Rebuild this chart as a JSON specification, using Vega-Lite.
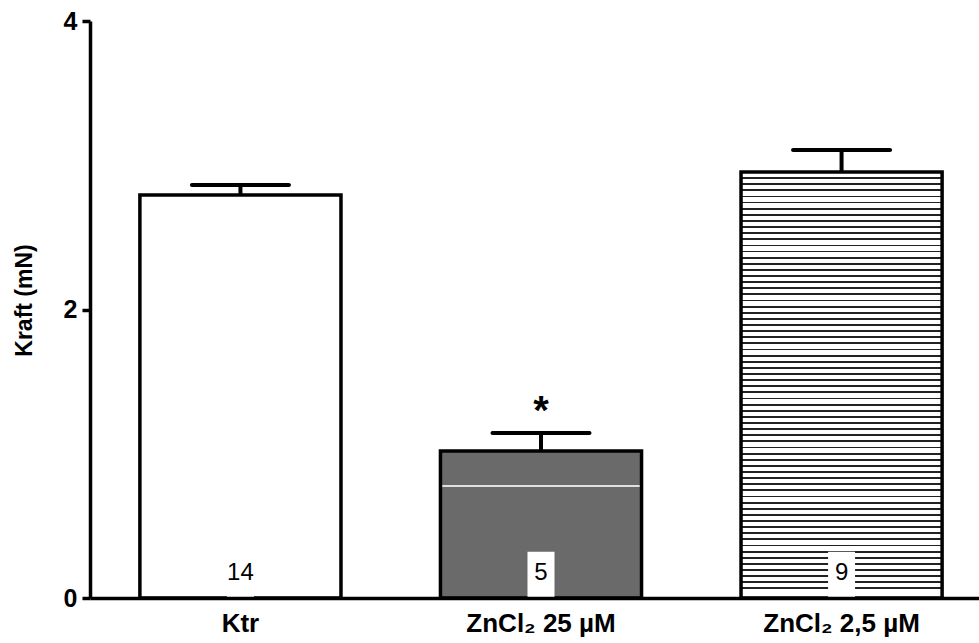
{
  "$schema": "https://vega.github.io/schema/vega-lite/v6.json",
  "width": 889,
  "height": 577,
  "autosize": {"type": "none"},
  "padding": {"left": 90, "top": 21, "right": 0, "bottom": 45},
  "background": "white",
  "config": {"view": {"stroke": null}, "font": "Liberation Sans"},
  "data": {"values": [
    {"g": "Ktr", "mean": 2.794, "err": 2.863, "n": "14", "sig": ""},
    {"g": "ZnCl₂ 25 µM", "mean": 1.019, "err": 1.144, "n": "5", "sig": "*"},
    {"g": "ZnCl₂ 2,5 µM", "mean": 2.953, "err": 3.106, "n": "9", "sig": ""}
  ]},
  "encoding": {
    "x": {
      "field": "g", "type": "nominal", "sort": null,
      "scale": {"range": [0, 902], "paddingInner": 0.331, "paddingOuter": 0.166},
      "axis": {
        "title": null, "domainColor": "black", "domainWidth": 3.5, "domainCap": "butt",
        "ticks": false, "labelFont": "Liberation Sans", "labelFontSize": 26, "labelFontWeight": "bold",
        "labelColor": "black", "labelPadding": 12, "labelAngle": 0, "zindex": 1
      }
    }
  },
  "layer": [
    {
      "mark": {"type": "bar", "stroke": "black", "strokeWidth": 3.5, "strokeJoin": "miter"},
      "encoding": {
        "y": {
          "field": "mean", "type": "quantitative",
          "scale": {"domain": [0, 4], "nice": false},
          "axis": {
            "title": "Kraft (mN)", "values": [0, 2, 4], "format": "d", "grid": false,
            "domainColor": "black", "domainWidth": 3.5, "domainCap": "butt",
            "tickColor": "black", "tickWidth": 3.5, "tickSize": 8,
            "labelFont": "Liberation Sans", "labelFontSize": 25, "labelFontWeight": "bold",
            "labelColor": "black", "labelPadding": 5,
            "titleFont": "Liberation Sans", "titleFontSize": 23, "titleFontWeight": "bold",
            "titleColor": "black", "titlePadding": 27, "titleY": 279, "zindex": 1
          }
        },
        "fill": {
          "condition": [
            {"test": "datum.n == '5'", "value": {
              "gradient": "linear", "x1": 0, "y1": 0, "x2": 0, "y2": 1,
              "stops": [
                {"offset": 0, "color": "#6a6a6a"},
                {"offset": 0.231, "color": "#6a6a6a"}, {"offset": 0.231, "color": "#e0e0e0"},
                {"offset": 0.245, "color": "#e0e0e0"}, {"offset": 0.245, "color": "#6a6a6a"},
                {"offset": 1, "color": "#6a6a6a"}
              ]
            }},
            {"test": "datum.n == '9'", "value": {
              "gradient": "linear", "x1": 0, "y1": 0, "x2": 0, "y2": 1,
              "stops": [
                {"offset": 0, "color": "#fff"},
                {"offset": 0.01197, "color": "#fff"}, {"offset": 0.01197, "color": "#222"}, {"offset": 0.01620, "color": "#222"}, {"offset": 0.01620, "color": "#fff"},
                {"offset": 0.02635, "color": "#fff"}, {"offset": 0.02635, "color": "#222"}, {"offset": 0.03058, "color": "#222"}, {"offset": 0.03058, "color": "#fff"},
                {"offset": 0.04073, "color": "#fff"}, {"offset": 0.04073, "color": "#222"}, {"offset": 0.04495, "color": "#222"}, {"offset": 0.04495, "color": "#fff"},
                {"offset": 0.05511, "color": "#fff"}, {"offset": 0.05511, "color": "#222"}, {"offset": 0.05933, "color": "#222"}, {"offset": 0.05933, "color": "#fff"},
                {"offset": 0.06948, "color": "#fff"}, {"offset": 0.06948, "color": "#222"}, {"offset": 0.07371, "color": "#222"}, {"offset": 0.07371, "color": "#fff"},
                {"offset": 0.08386, "color": "#fff"}, {"offset": 0.08386, "color": "#222"}, {"offset": 0.08809, "color": "#222"}, {"offset": 0.08809, "color": "#fff"},
                {"offset": 0.09824, "color": "#fff"}, {"offset": 0.09824, "color": "#222"}, {"offset": 0.10246, "color": "#222"}, {"offset": 0.10246, "color": "#fff"},
                {"offset": 0.11262, "color": "#fff"}, {"offset": 0.11262, "color": "#222"}, {"offset": 0.11684, "color": "#222"}, {"offset": 0.11684, "color": "#fff"},
                {"offset": 0.12700, "color": "#fff"}, {"offset": 0.12700, "color": "#222"}, {"offset": 0.13122, "color": "#222"}, {"offset": 0.13122, "color": "#fff"},
                {"offset": 0.14138, "color": "#fff"}, {"offset": 0.14138, "color": "#222"}, {"offset": 0.14560, "color": "#222"}, {"offset": 0.14560, "color": "#fff"},
                {"offset": 0.15575, "color": "#fff"}, {"offset": 0.15575, "color": "#222"}, {"offset": 0.15998, "color": "#222"}, {"offset": 0.15998, "color": "#fff"},
                {"offset": 0.17013, "color": "#fff"}, {"offset": 0.17013, "color": "#222"}, {"offset": 0.17436, "color": "#222"}, {"offset": 0.17436, "color": "#fff"},
                {"offset": 0.18451, "color": "#fff"}, {"offset": 0.18451, "color": "#222"}, {"offset": 0.18873, "color": "#222"}, {"offset": 0.18873, "color": "#fff"},
                {"offset": 0.19889, "color": "#fff"}, {"offset": 0.19889, "color": "#222"}, {"offset": 0.20311, "color": "#222"}, {"offset": 0.20311, "color": "#fff"},
                {"offset": 0.21327, "color": "#fff"}, {"offset": 0.21327, "color": "#222"}, {"offset": 0.21749, "color": "#222"}, {"offset": 0.21749, "color": "#fff"},
                {"offset": 0.22764, "color": "#fff"}, {"offset": 0.22764, "color": "#222"}, {"offset": 0.23187, "color": "#222"}, {"offset": 0.23187, "color": "#fff"},
                {"offset": 0.24202, "color": "#fff"}, {"offset": 0.24202, "color": "#222"}, {"offset": 0.24625, "color": "#222"}, {"offset": 0.24625, "color": "#fff"},
                {"offset": 0.25640, "color": "#fff"}, {"offset": 0.25640, "color": "#222"}, {"offset": 0.26063, "color": "#222"}, {"offset": 0.26063, "color": "#fff"},
                {"offset": 0.27078, "color": "#fff"}, {"offset": 0.27078, "color": "#222"}, {"offset": 0.27500, "color": "#222"}, {"offset": 0.27500, "color": "#fff"},
                {"offset": 0.28516, "color": "#fff"}, {"offset": 0.28516, "color": "#222"}, {"offset": 0.28938, "color": "#222"}, {"offset": 0.28938, "color": "#fff"},
                {"offset": 0.29953, "color": "#fff"}, {"offset": 0.29953, "color": "#222"}, {"offset": 0.30376, "color": "#222"}, {"offset": 0.30376, "color": "#fff"},
                {"offset": 0.31391, "color": "#fff"}, {"offset": 0.31391, "color": "#222"}, {"offset": 0.31814, "color": "#222"}, {"offset": 0.31814, "color": "#fff"},
                {"offset": 0.32829, "color": "#fff"}, {"offset": 0.32829, "color": "#222"}, {"offset": 0.33252, "color": "#222"}, {"offset": 0.33252, "color": "#fff"},
                {"offset": 0.34267, "color": "#fff"}, {"offset": 0.34267, "color": "#222"}, {"offset": 0.34689, "color": "#222"}, {"offset": 0.34689, "color": "#fff"},
                {"offset": 0.35705, "color": "#fff"}, {"offset": 0.35705, "color": "#222"}, {"offset": 0.36127, "color": "#222"}, {"offset": 0.36127, "color": "#fff"},
                {"offset": 0.37142, "color": "#fff"}, {"offset": 0.37142, "color": "#222"}, {"offset": 0.37565, "color": "#222"}, {"offset": 0.37565, "color": "#fff"},
                {"offset": 0.38580, "color": "#fff"}, {"offset": 0.38580, "color": "#222"}, {"offset": 0.39003, "color": "#222"}, {"offset": 0.39003, "color": "#fff"},
                {"offset": 0.40018, "color": "#fff"}, {"offset": 0.40018, "color": "#222"}, {"offset": 0.40441, "color": "#222"}, {"offset": 0.40441, "color": "#fff"},
                {"offset": 0.41456, "color": "#fff"}, {"offset": 0.41456, "color": "#222"}, {"offset": 0.41878, "color": "#222"}, {"offset": 0.41878, "color": "#fff"},
                {"offset": 0.42894, "color": "#fff"}, {"offset": 0.42894, "color": "#222"}, {"offset": 0.43316, "color": "#222"}, {"offset": 0.43316, "color": "#fff"},
                {"offset": 0.44331, "color": "#fff"}, {"offset": 0.44331, "color": "#222"}, {"offset": 0.44754, "color": "#222"}, {"offset": 0.44754, "color": "#fff"},
                {"offset": 0.45769, "color": "#fff"}, {"offset": 0.45769, "color": "#222"}, {"offset": 0.46192, "color": "#222"}, {"offset": 0.46192, "color": "#fff"},
                {"offset": 0.47207, "color": "#fff"}, {"offset": 0.47207, "color": "#222"}, {"offset": 0.47630, "color": "#222"}, {"offset": 0.47630, "color": "#fff"},
                {"offset": 0.48645, "color": "#fff"}, {"offset": 0.48645, "color": "#222"}, {"offset": 0.49067, "color": "#222"}, {"offset": 0.49067, "color": "#fff"},
                {"offset": 0.50083, "color": "#fff"}, {"offset": 0.50083, "color": "#222"}, {"offset": 0.50505, "color": "#222"}, {"offset": 0.50505, "color": "#fff"},
                {"offset": 0.51520, "color": "#fff"}, {"offset": 0.51520, "color": "#222"}, {"offset": 0.51943, "color": "#222"}, {"offset": 0.51943, "color": "#fff"},
                {"offset": 0.52958, "color": "#fff"}, {"offset": 0.52958, "color": "#222"}, {"offset": 0.53381, "color": "#222"}, {"offset": 0.53381, "color": "#fff"},
                {"offset": 0.54396, "color": "#fff"}, {"offset": 0.54396, "color": "#222"}, {"offset": 0.54819, "color": "#222"}, {"offset": 0.54819, "color": "#fff"},
                {"offset": 0.55834, "color": "#fff"}, {"offset": 0.55834, "color": "#222"}, {"offset": 0.56256, "color": "#222"}, {"offset": 0.56256, "color": "#fff"},
                {"offset": 0.57272, "color": "#fff"}, {"offset": 0.57272, "color": "#222"}, {"offset": 0.57694, "color": "#222"}, {"offset": 0.57694, "color": "#fff"},
                {"offset": 0.58709, "color": "#fff"}, {"offset": 0.58709, "color": "#222"}, {"offset": 0.59132, "color": "#222"}, {"offset": 0.59132, "color": "#fff"},
                {"offset": 0.60147, "color": "#fff"}, {"offset": 0.60147, "color": "#222"}, {"offset": 0.60570, "color": "#222"}, {"offset": 0.60570, "color": "#fff"},
                {"offset": 0.61585, "color": "#fff"}, {"offset": 0.61585, "color": "#222"}, {"offset": 0.62008, "color": "#222"}, {"offset": 0.62008, "color": "#fff"},
                {"offset": 0.63023, "color": "#fff"}, {"offset": 0.63023, "color": "#222"}, {"offset": 0.63445, "color": "#222"}, {"offset": 0.63445, "color": "#fff"},
                {"offset": 0.64461, "color": "#fff"}, {"offset": 0.64461, "color": "#222"}, {"offset": 0.64883, "color": "#222"}, {"offset": 0.64883, "color": "#fff"},
                {"offset": 0.65898, "color": "#fff"}, {"offset": 0.65898, "color": "#222"}, {"offset": 0.66321, "color": "#222"}, {"offset": 0.66321, "color": "#fff"},
                {"offset": 0.67336, "color": "#fff"}, {"offset": 0.67336, "color": "#222"}, {"offset": 0.67759, "color": "#222"}, {"offset": 0.67759, "color": "#fff"},
                {"offset": 0.68774, "color": "#fff"}, {"offset": 0.68774, "color": "#222"}, {"offset": 0.69197, "color": "#222"}, {"offset": 0.69197, "color": "#fff"},
                {"offset": 0.70212, "color": "#fff"}, {"offset": 0.70212, "color": "#222"}, {"offset": 0.70634, "color": "#222"}, {"offset": 0.70634, "color": "#fff"},
                {"offset": 0.71650, "color": "#fff"}, {"offset": 0.71650, "color": "#222"}, {"offset": 0.72072, "color": "#222"}, {"offset": 0.72072, "color": "#fff"},
                {"offset": 0.73087, "color": "#fff"}, {"offset": 0.73087, "color": "#222"}, {"offset": 0.73510, "color": "#222"}, {"offset": 0.73510, "color": "#fff"},
                {"offset": 0.74525, "color": "#fff"}, {"offset": 0.74525, "color": "#222"}, {"offset": 0.74948, "color": "#222"}, {"offset": 0.74948, "color": "#fff"},
                {"offset": 0.75963, "color": "#fff"}, {"offset": 0.75963, "color": "#222"}, {"offset": 0.76386, "color": "#222"}, {"offset": 0.76386, "color": "#fff"},
                {"offset": 0.77401, "color": "#fff"}, {"offset": 0.77401, "color": "#222"}, {"offset": 0.77823, "color": "#222"}, {"offset": 0.77823, "color": "#fff"},
                {"offset": 0.78839, "color": "#fff"}, {"offset": 0.78839, "color": "#222"}, {"offset": 0.79261, "color": "#222"}, {"offset": 0.79261, "color": "#fff"},
                {"offset": 0.80276, "color": "#fff"}, {"offset": 0.80276, "color": "#222"}, {"offset": 0.80699, "color": "#222"}, {"offset": 0.80699, "color": "#fff"},
                {"offset": 0.81714, "color": "#fff"}, {"offset": 0.81714, "color": "#222"}, {"offset": 0.82137, "color": "#222"}, {"offset": 0.82137, "color": "#fff"},
                {"offset": 0.83152, "color": "#fff"}, {"offset": 0.83152, "color": "#222"}, {"offset": 0.83575, "color": "#222"}, {"offset": 0.83575, "color": "#fff"},
                {"offset": 0.84590, "color": "#fff"}, {"offset": 0.84590, "color": "#222"}, {"offset": 0.85012, "color": "#222"}, {"offset": 0.85012, "color": "#fff"},
                {"offset": 0.86028, "color": "#fff"}, {"offset": 0.86028, "color": "#222"}, {"offset": 0.86450, "color": "#222"}, {"offset": 0.86450, "color": "#fff"},
                {"offset": 0.87465, "color": "#fff"}, {"offset": 0.87465, "color": "#222"}, {"offset": 0.87888, "color": "#222"}, {"offset": 0.87888, "color": "#fff"},
                {"offset": 0.88903, "color": "#fff"}, {"offset": 0.88903, "color": "#222"}, {"offset": 0.89326, "color": "#222"}, {"offset": 0.89326, "color": "#fff"},
                {"offset": 0.90341, "color": "#fff"}, {"offset": 0.90341, "color": "#222"}, {"offset": 0.90764, "color": "#222"}, {"offset": 0.90764, "color": "#fff"},
                {"offset": 0.91779, "color": "#fff"}, {"offset": 0.91779, "color": "#222"}, {"offset": 0.92201, "color": "#222"}, {"offset": 0.92201, "color": "#fff"},
                {"offset": 0.93217, "color": "#fff"}, {"offset": 0.93217, "color": "#222"}, {"offset": 0.93639, "color": "#222"}, {"offset": 0.93639, "color": "#fff"},
                {"offset": 0.94654, "color": "#fff"}, {"offset": 0.94654, "color": "#222"}, {"offset": 0.95077, "color": "#222"}, {"offset": 0.95077, "color": "#fff"},
                {"offset": 0.96092, "color": "#fff"}, {"offset": 0.96092, "color": "#222"}, {"offset": 0.96515, "color": "#222"}, {"offset": 0.96515, "color": "#fff"},
                {"offset": 0.97530, "color": "#fff"}, {"offset": 0.97530, "color": "#222"}, {"offset": 0.97953, "color": "#222"}, {"offset": 0.97953, "color": "#fff"},
                {"offset": 1, "color": "#fff"}
              ]
            }}
          ],
          "value": "white"
        }
      }
    },
    {
      "mark": {"type": "bar", "fill": "white", "width": 27},
      "encoding": {"y": {"datum": 0, "type": "quantitative"}, "y2": {"datum": 0.32}}
    },
    {
      "mark": {"type": "rule", "strokeWidth": 4, "color": "black"},
      "encoding": {"y": {"field": "mean", "type": "quantitative"}, "y2": {"field": "err"}}
    },
    {
      "mark": {"type": "tick", "thickness": 4, "size": 101, "color": "black", "opacity": 1, "cornerRadius": 2},
      "encoding": {"y": {"field": "err", "type": "quantitative"}}
    },
    {
      "mark": {"type": "text", "fontSize": 24, "font": "Liberation Sans", "baseline": "alphabetic", "dy": -18, "color": "black"},
      "encoding": {"y": {"datum": 0, "type": "quantitative"}, "text": {"field": "n"}}
    },
    {
      "mark": {"type": "text", "fontSize": 40, "fontWeight": "bold", "font": "Liberation Sans", "baseline": "alphabetic", "dy": -9, "color": "black"},
      "encoding": {"y": {"field": "err", "type": "quantitative"}, "text": {"field": "sig"}}
    }
  ]
}
